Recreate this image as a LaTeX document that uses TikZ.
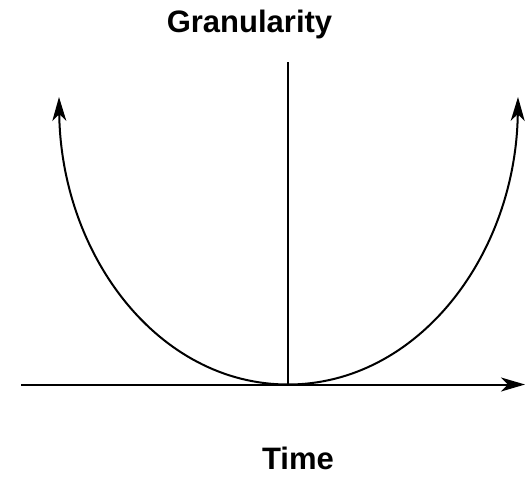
\documentclass[tikz,border=0pt]{standalone}
\usepackage{fontspec}
\setmainfont{Liberation Sans}
\usetikzlibrary{arrows.meta}
\begin{document}
\begin{tikzpicture}[x=1pt,y=-1pt,
  ln/.style={line width=2pt},
  arr/.style={ln,-{Stealth[length=24pt,width=14pt,inset=7pt]}},
  lbl/.style={font=\fontsize{31}{36}\selectfont\bfseries,inner sep=0pt,anchor=base}]
\useasboundingbox (0,0) rectangle (529,479);
\coordinate (o) at (288,384.5);
\coordinate (xl) at (21,384.5);
\coordinate (xr) at (525,384.5);
\coordinate (yt) at (288,62);
\coordinate (lt) at (59,97);
\coordinate (rt) at (518,97);
\node[lbl] (g) at (249.5,32) {Granularity};
\node[lbl] (t) at (298,469) {Time};
\draw[arr] (xl) -- (xr);
\draw[ln] (o) -- (yt);
\draw[arr] (o) .. controls (158,384.5) and (61,255) .. (lt);
\draw[arr] (o) .. controls (418,384.5) and (516,255) .. (rt);
\end{tikzpicture}
\end{document}
